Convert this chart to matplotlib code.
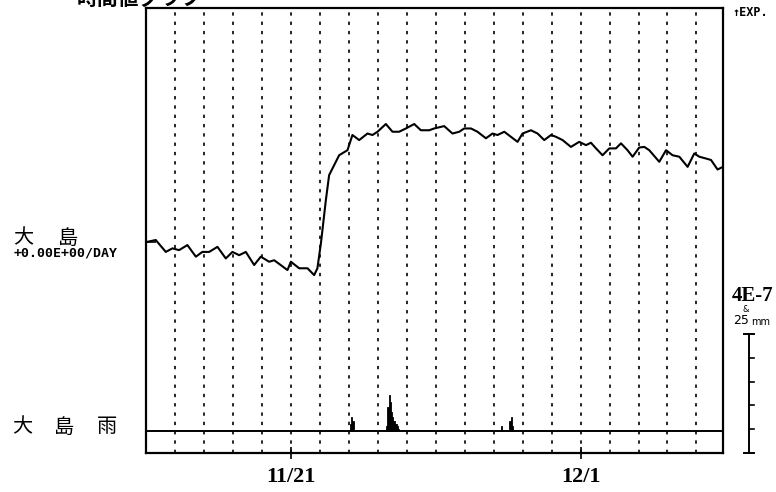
import matplotlib
matplotlib.use("Agg")
import matplotlib.pyplot as plt
import matplotlib.transforms as mtransforms

plt.rcParams['lines.scale_dashes'] = False

# ---- data (hours since 11/16 00:00) ----
strain_hours = [0, 8.1, 16.4, 21.9, 27.4, 34.3, 41.3, 46.7, 52.3, 59.2, 66.1, 71.6, 77.2, 82.7,
                89.6, 95.1, 102.0, 106.2, 117.2, 120.0, 126.9, 133.8, 139.3, 142.0, 144.9, 149.0,
                151.7, 160.0, 166.9, 171.0, 176.6, 183.5, 187.6, 191.8, 198.7, 204.2, 209.7, 215.3,
                222.2, 227.7, 234.6, 238.7, 247.0, 253.9, 259.5, 263.6, 269.2, 274.6, 281.6, 287.1,
                291.2, 296.8, 302.3, 307.8, 311.9, 318.9, 324.4, 329.9, 335.5, 339.6, 345.1, 352.0,
                358.9, 364.5, 368.6, 372.8, 378.2, 383.8, 389.3, 393.5, 398.9, 403.1, 408.6, 412.8,
                416.9, 425.2, 430.8, 436.2, 441.8, 448.7, 454.2, 458.4, 463.9, 468.1, 473.5, 478.0]
# strain change in units of 1E-8
strain_e8 = [0.0, 0.7, -3.3, -2.1, -2.7, -1.0, -4.9, -3.3, -3.3, -1.6, -5.5, -3.3, -4.4, -3.3,
             -7.7, -4.9, -6.6, -6.1, -9.4, -6.6, -8.8, -8.8, -11.1, -8.8, -0.4, 14.1,
             22.5, 29.2, 30.9, 36.0, 34.3, 36.5, 36.0, 37.1, 39.7, 37.1, 37.1, 38.2,
             39.7, 37.6, 37.6, 38.2, 39.0, 36.5, 37.1, 38.2, 38.2, 37.1, 34.9, 36.5,
             36.0, 37.1, 35.4, 33.7, 36.5, 37.6, 36.5, 34.3, 36.0, 35.4, 34.3, 32.0,
             33.7, 32.6, 33.4, 31.5, 29.2, 31.5, 31.5, 33.2, 30.9, 28.7, 31.8, 32.0,
             30.9, 27.0, 30.9, 29.2, 28.7, 25.3, 29.8, 28.7, 28.1, 27.6, 24.4, 25.3]

rain_hours = [169, 170, 171, 199, 200, 201, 202, 203, 204, 205, 206, 207, 208, 209, 294, 301, 302, 303]
rain_mm = [1.5, 3.0, 2.0, 1.0, 5.0, 7.5, 6.0, 4.0, 3.0, 2.0, 1.5, 1.5, 1.0, 0.5, 1.0, 2.0, 3.0, 1.0]

day_lines = [d * 24 for d in range(1, 20)]
tick_hours = [120, 360]
tick_labels = ['11/21', '12/1']

W, H = 776, 492
fig = plt.figure(figsize=(W / 100, H / 100), dpi=100)

px_left, px_right, px_top, px_bottom = 146, 723, 8, 453
ax = fig.add_axes([px_left / W, 1 - px_bottom / H, (px_right - px_left) / W, (px_bottom - px_top) / H])

# strain axis: 0 at pixel 242, 2.975 px per 1E-8
ax.set_xlim(0, 478)
ax.set_ylim(-70.9, 78.7)

for h in day_lines:
    ax.axvline(h, color='black', lw=1.2, linestyle=(0, (2.4, 4.3)), zorder=1)

ax.plot(strain_hours, strain_e8, color='black', lw=1.5, zorder=3)

for s in ax.spines.values():
    s.set_linewidth(1.6)
    s.set_color('black')

ax.set_yticks([0])
ax.tick_params(axis='y', direction='in', left=True, right=True, labelleft=False,
               length=7, width=1.2)
ax.set_xticks(tick_hours)
ax.set_xticklabels(tick_labels, fontfamily='Liberation Serif', fontsize=16, fontweight='bold')
ax.tick_params(axis='x', direction='inout', length=8, width=1.2, pad=6)

# rain axis: 0 at pixel 431, 4.76 px per mm
rax = ax.twinx()
rax.set_ylim(-4.62, 88.9)
rax.axis('off')
rax.axhline(0, color='black', lw=1.4)
rax.bar(rain_hours, rain_mm, width=1.0, align='edge', color='black', edgecolor='black', linewidth=0.6)

# scale bar: 4E-7 (=40 x 1E-8), drawn against strain axis
trans = mtransforms.blended_transform_factory(ax.transAxes, ax.transData)
xb = (749 - px_left) / (px_right - px_left)
cap = 5 / (px_right - px_left)
y0 = ax.get_ylim()[0]
ax.plot([xb, xb], [y0, y0 + 40], color='black', lw=1.4, transform=trans, clip_on=False)
for k in range(6):
    yk = y0 + 8 * k
    if k in (0, 5):
        ax.plot([xb - cap, xb + cap], [yk, yk], color='black', lw=1.4, transform=trans, clip_on=False)
    else:
        ax.plot([xb, xb + cap], [yk, yk], color='black', lw=1.2, transform=trans, clip_on=False)

def ftext(x, y, s, **kw):
    fig.text(x / W, 1 - y / H, s, **kw)

cjk = ['Noto Sans CJK JP', 'DejaVu Sans']
ftext(77, 5, '時間値グラフ', fontsize=15, family=cjk, fontweight='bold', va='baseline', ha='left')
ftext(13, 238, '大', fontsize=14.5, family=cjk, va='center', ha='left')
ftext(57, 238, '島', fontsize=14.5, family=cjk, va='center', ha='left')
ftext(14, 253, '+0.00E+00/DAY', fontsize=9.5, family='DejaVu Sans Mono', fontweight='bold',
      va='center', ha='left')
ftext(12, 427, '大', fontsize=14.5, family=cjk, va='center', ha='left')
ftext(53, 427, '島', fontsize=14.5, family=cjk, va='center', ha='left')
ftext(97, 427, '雨', fontsize=14.5, family=cjk, va='center', ha='left')
ftext(733, 12, '↑EXP.', fontsize=8.5, family='DejaVu Sans Mono', fontweight='bold',
      va='center', ha='left')
ftext(753, 296, '4E-7', fontsize=15, family='Liberation Serif', fontweight='bold',
      va='center', ha='center')
ftext(746, 310, '&', fontsize=6, family='DejaVu Sans', va='center', ha='center')
ftext(733, 321, '25', fontsize=9, family='DejaVu Sans', va='center', ha='left')
ftext(751, 322, 'mm', fontsize=7, family='DejaVu Sans', va='center', ha='left')

fig.savefig('out.png', dpi=100, facecolor='white')
